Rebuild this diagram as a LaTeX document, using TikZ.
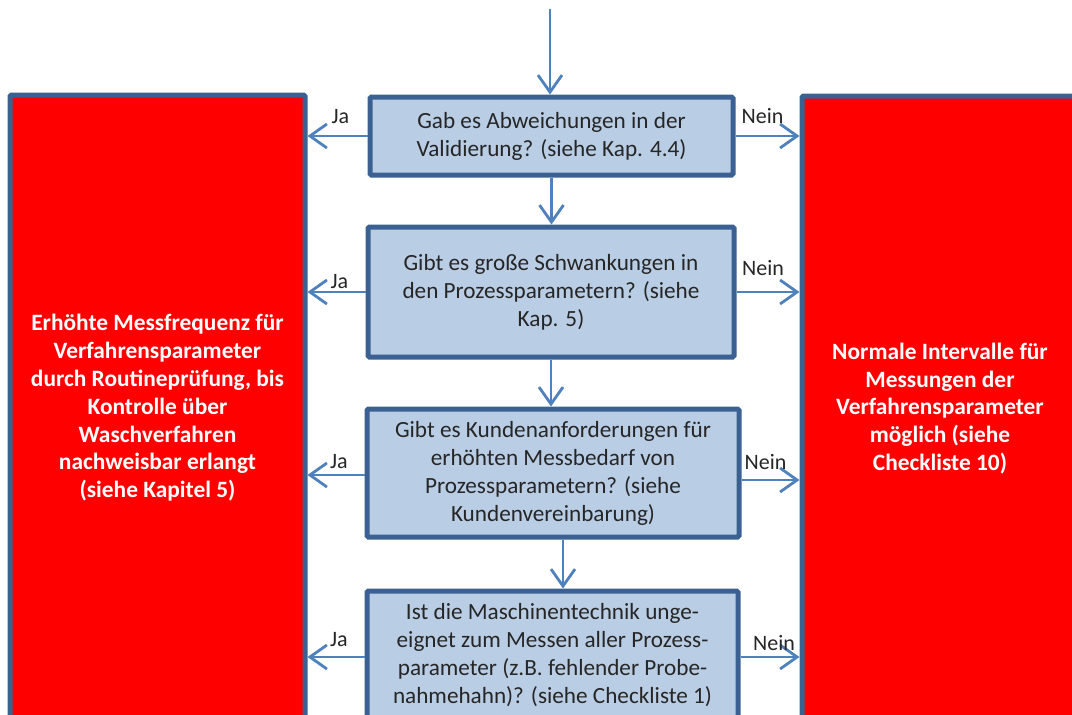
\documentclass[tikz,border=0pt]{standalone}
\usepackage{fontspec}
\setmainfont{Carlito}
\usetikzlibrary{arrows.meta}
\definecolor{boxfill}{HTML}{B9CDE5}
\definecolor{boxline}{HTML}{3B6192}
\definecolor{arrowc}{HTML}{4F81BD}
\definecolor{labc}{HTML}{262626}
\begin{document}
\begin{tikzpicture}[x=1pt,y=-1pt,
 qbox/.style={draw=boxline, line width=5pt, fill=boxfill, rounded corners=1.5pt, align=center,
   font=\fontsize{23.2}{28}\selectfont, text=labc, inner sep=0pt},
 redbox/.style={draw=boxline, line width=5pt, fill=red, rounded corners=1.5pt, align=center,
   font=\bfseries\fontsize{23.4}{27.8}\selectfont, text=white, inner sep=0pt},
 flow/.style={draw=arrowc, line width=2.8pt, -{Straight Barb[length=17pt,width=24pt,line width=2.8pt]}},
 lab/.style={font=\fontsize{22}{24}\selectfont, text=labc, inner sep=0pt, midway}]
\path[fill=white, use as bounding box] (0,0) rectangle (1072,715);
\clip (0,0) rectangle (1072,715);

\node[redbox, minimum width=295pt, minimum height=626pt] (L) at (157.5,408)
 {Erhöhte Messfrequenz für\\Verfahrensparameter\\durch Routineprüfung, bis\\Kontrolle über\\Waschverfahren\\nachweisbar erlangt\\(siehe Kapitel 5)};
\node[redbox, minimum width=276pt, minimum height=625pt] (R) at (940,408.5)
 {Normale Intervalle für\\Messungen der\\Verfahrensparameter\\möglich (siehe\\Checkliste 10)};

\node[qbox, minimum width=363pt, minimum height=78pt] (b1) at (551.5,136)
 {Gab es Abweichungen in der\\Validierung? (siehe Kap. 4.4)};
\node[qbox, minimum width=366pt, minimum height=130pt] (b2) at (551,292)
 {Gibt es große Schwankungen in\\den Prozessparametern? (siehe\\Kap. 5)};
\node[qbox, minimum width=372pt, minimum height=128pt] (b3) at (553,473)
 {Gibt es Kundenanforderungen für\\erhöhten Messbedarf von\\Prozessparametern? (siehe\\Kundenvereinbarung)};
\node[qbox, minimum width=371pt, minimum height=128pt] (b4) at (552.5,655)
 {Ist die Maschinentechnik unge-\\eignet zum Messen aller Prozess-\\parameter (z.B. fehlender Probe-\\nahmehahn)? (siehe Checkliste 1)};

\coordinate (top) at (550,9);
\draw[flow] (top) -- (top |- b1.north);
\draw[flow] (b1.south) -- (b1.south |- b2.north);
\draw[flow] (b2.south) -- (b2.south |- b3.north);
\draw[flow] ([xshift=10pt]b3.south) -- ([xshift=10pt]b3.south |- b4.north);

\draw[flow] (b1.west) -- node[lab, xshift=3pt, yshift=19pt]{Ja} (b1.west -| L.east);
\draw[flow] (b2.west) -- node[lab, xshift=3pt, yshift=10pt]{Ja} (b2.west -| L.east);
\draw[flow] ([yshift=-2pt]b3.west) -- node[lab, xshift=3pt, yshift=13pt]{Ja} ([yshift=-2pt]b3.west -| L.east);
\draw[flow] ([yshift=-2pt]b4.west) -- node[lab, xshift=3pt, yshift=17pt]{Ja} ([yshift=-2pt]b4.west -| L.east);

\draw[flow] (b1.east) -- node[lab, xshift=-5pt, yshift=20pt]{Nein} (b1.east -| R.west);
\draw[flow] (b2.east) -- node[lab, xshift=-5pt, yshift=24pt]{Nein} (b2.east -| R.west);
\draw[flow] ([yshift=-7pt]b3.east) -- node[lab, xshift=-5pt, yshift=18pt]{Nein} ([yshift=-7pt]b3.east -| R.west);
\draw[flow] ([yshift=-2pt]b4.east) -- node[lab, xshift=4pt, yshift=14pt]{Nein} ([yshift=-2pt]b4.east -| R.west);
\end{tikzpicture}
\end{document}
